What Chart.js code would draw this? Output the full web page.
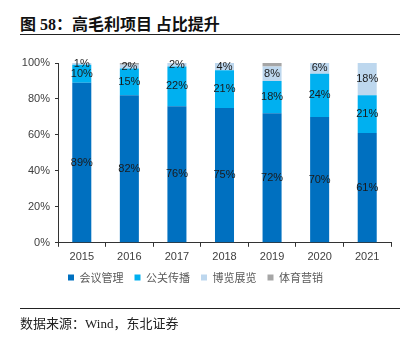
<!DOCTYPE html>
<html><head><meta charset="utf-8">
<script src="https://cdn.jsdelivr.net/npm/chart.js@4/dist/chart.umd.min.js"></script>
<style>
html,body{margin:0;padding:0;background:#fff;}
body{width:416px;height:338px;position:relative;overflow:hidden;}
#c{position:absolute;left:0;top:0;}
#title{position:absolute;left:20px;top:11px;font:bold 16px "Liberation Serif","Noto Sans CJK SC";color:#111;white-space:nowrap;}
#title .cjk{font-family:"Noto Sans CJK SC";}
.line{position:absolute;left:20px;width:380px;height:1px;background:#222;}
#src{position:absolute;left:20px;top:313px;font:13px "Liberation Serif","Noto Sans CJK SC";color:#222;white-space:nowrap;}
</style></head><body>
<div id="title"><span class="cjk">图</span> 58<span class="cjk">：高毛利项目 占比提升</span></div>
<div class="line" style="top:34px"></div>
<canvas id="c" width="416" height="338"></canvas>
<div class="line" style="top:308px"></div>
<div id="src"><span style="font-family:'Noto Sans CJK SC'">数据来源：</span>Wind<span style="font-family:'Noto Sans CJK SC'">，东北证券</span></div>
<script>
const categories = ['2015','2016','2017','2018','2019','2020','2021'];
const seriesNames = ['会议管理','公关传播','博览展览','体育营销'];
const meeting = [89,82,76,75,72,70,61];
const pr = [10,15,22,21,18,24,21];
const expo = [1,2,2,4,8,6,18];
const sports = [0,1,0,0,2,0,0];
const yTicks = [0,20,40,60,80,100];
const colors = ['#0070C0','#00B0F0','#BDD7EE','#A6A6A6'];
const showLabel = [true,true,true,false];

const labelPlugin = {
  id:'segLabels',
  afterDatasetsDraw(chart){
    const ctx = chart.ctx;
    ctx.save();
    ctx.font = '11px "Liberation Sans", Arial';
    ctx.fillStyle = '#1a1a1a';
    ctx.textAlign = 'center';
    ctx.textBaseline = 'middle';
    chart.data.datasets.forEach((ds,di)=>{
      if(!showLabel[di]) return;
      const meta = chart.getDatasetMeta(di);
      meta.data.forEach((el,i)=>{
        const v = ds.data[i];
        if(!v) return;
        ctx.fillText(v+'%', el.x, (el.y+el.base)/2);
      });
    });
    ctx.restore();
  }
};

const allSeries=[meeting,pr,expo,sports];
new Chart(document.getElementById('c'),{
  type:'bar',
  data:{labels:categories,datasets:allSeries.map((d,i)=>({label:seriesNames[i],data:d,backgroundColor:colors[i],borderWidth:0,barPercentage:0.8,categoryPercentage:0.5}))},
  options:{
    responsive:false,animation:false,
    layout:{padding:{left:0,right:25,top:63,bottom:45}},
    plugins:{
      tooltip:{enabled:false},
      legend:{position:'bottom',labels:{boxWidth:6,boxHeight:6,padding:11,color:'#595959',font:{size:11,family:'"Noto Sans CJK SC"'}}}
    },
    scales:{
      x:{stacked:true,afterFit(s){s.height-=7;},grid:{display:true,drawOnChartArea:false,offset:true,tickLength:4,color:'#333'},border:{color:'#333',width:1},
         ticks:{color:'#404040',font:{size:11,family:'"Liberation Sans", Arial'},padding:4}},
      y:{stacked:true,min:0,max:100,afterFit(s){s.width=58;},
         afterBuildTicks(s){s.ticks=yTicks.map(v=>({value:v}));},
         grid:{display:true,drawOnChartArea:false,tickLength:3,color:'#333'},border:{color:'#333',width:1},
         ticks:{color:'#404040',font:{size:11,family:'"Liberation Sans", Arial'},padding:5,callback:v=>v+'%'}}
    }
  },
  plugins:[labelPlugin]
});
</script>
</body></html>
